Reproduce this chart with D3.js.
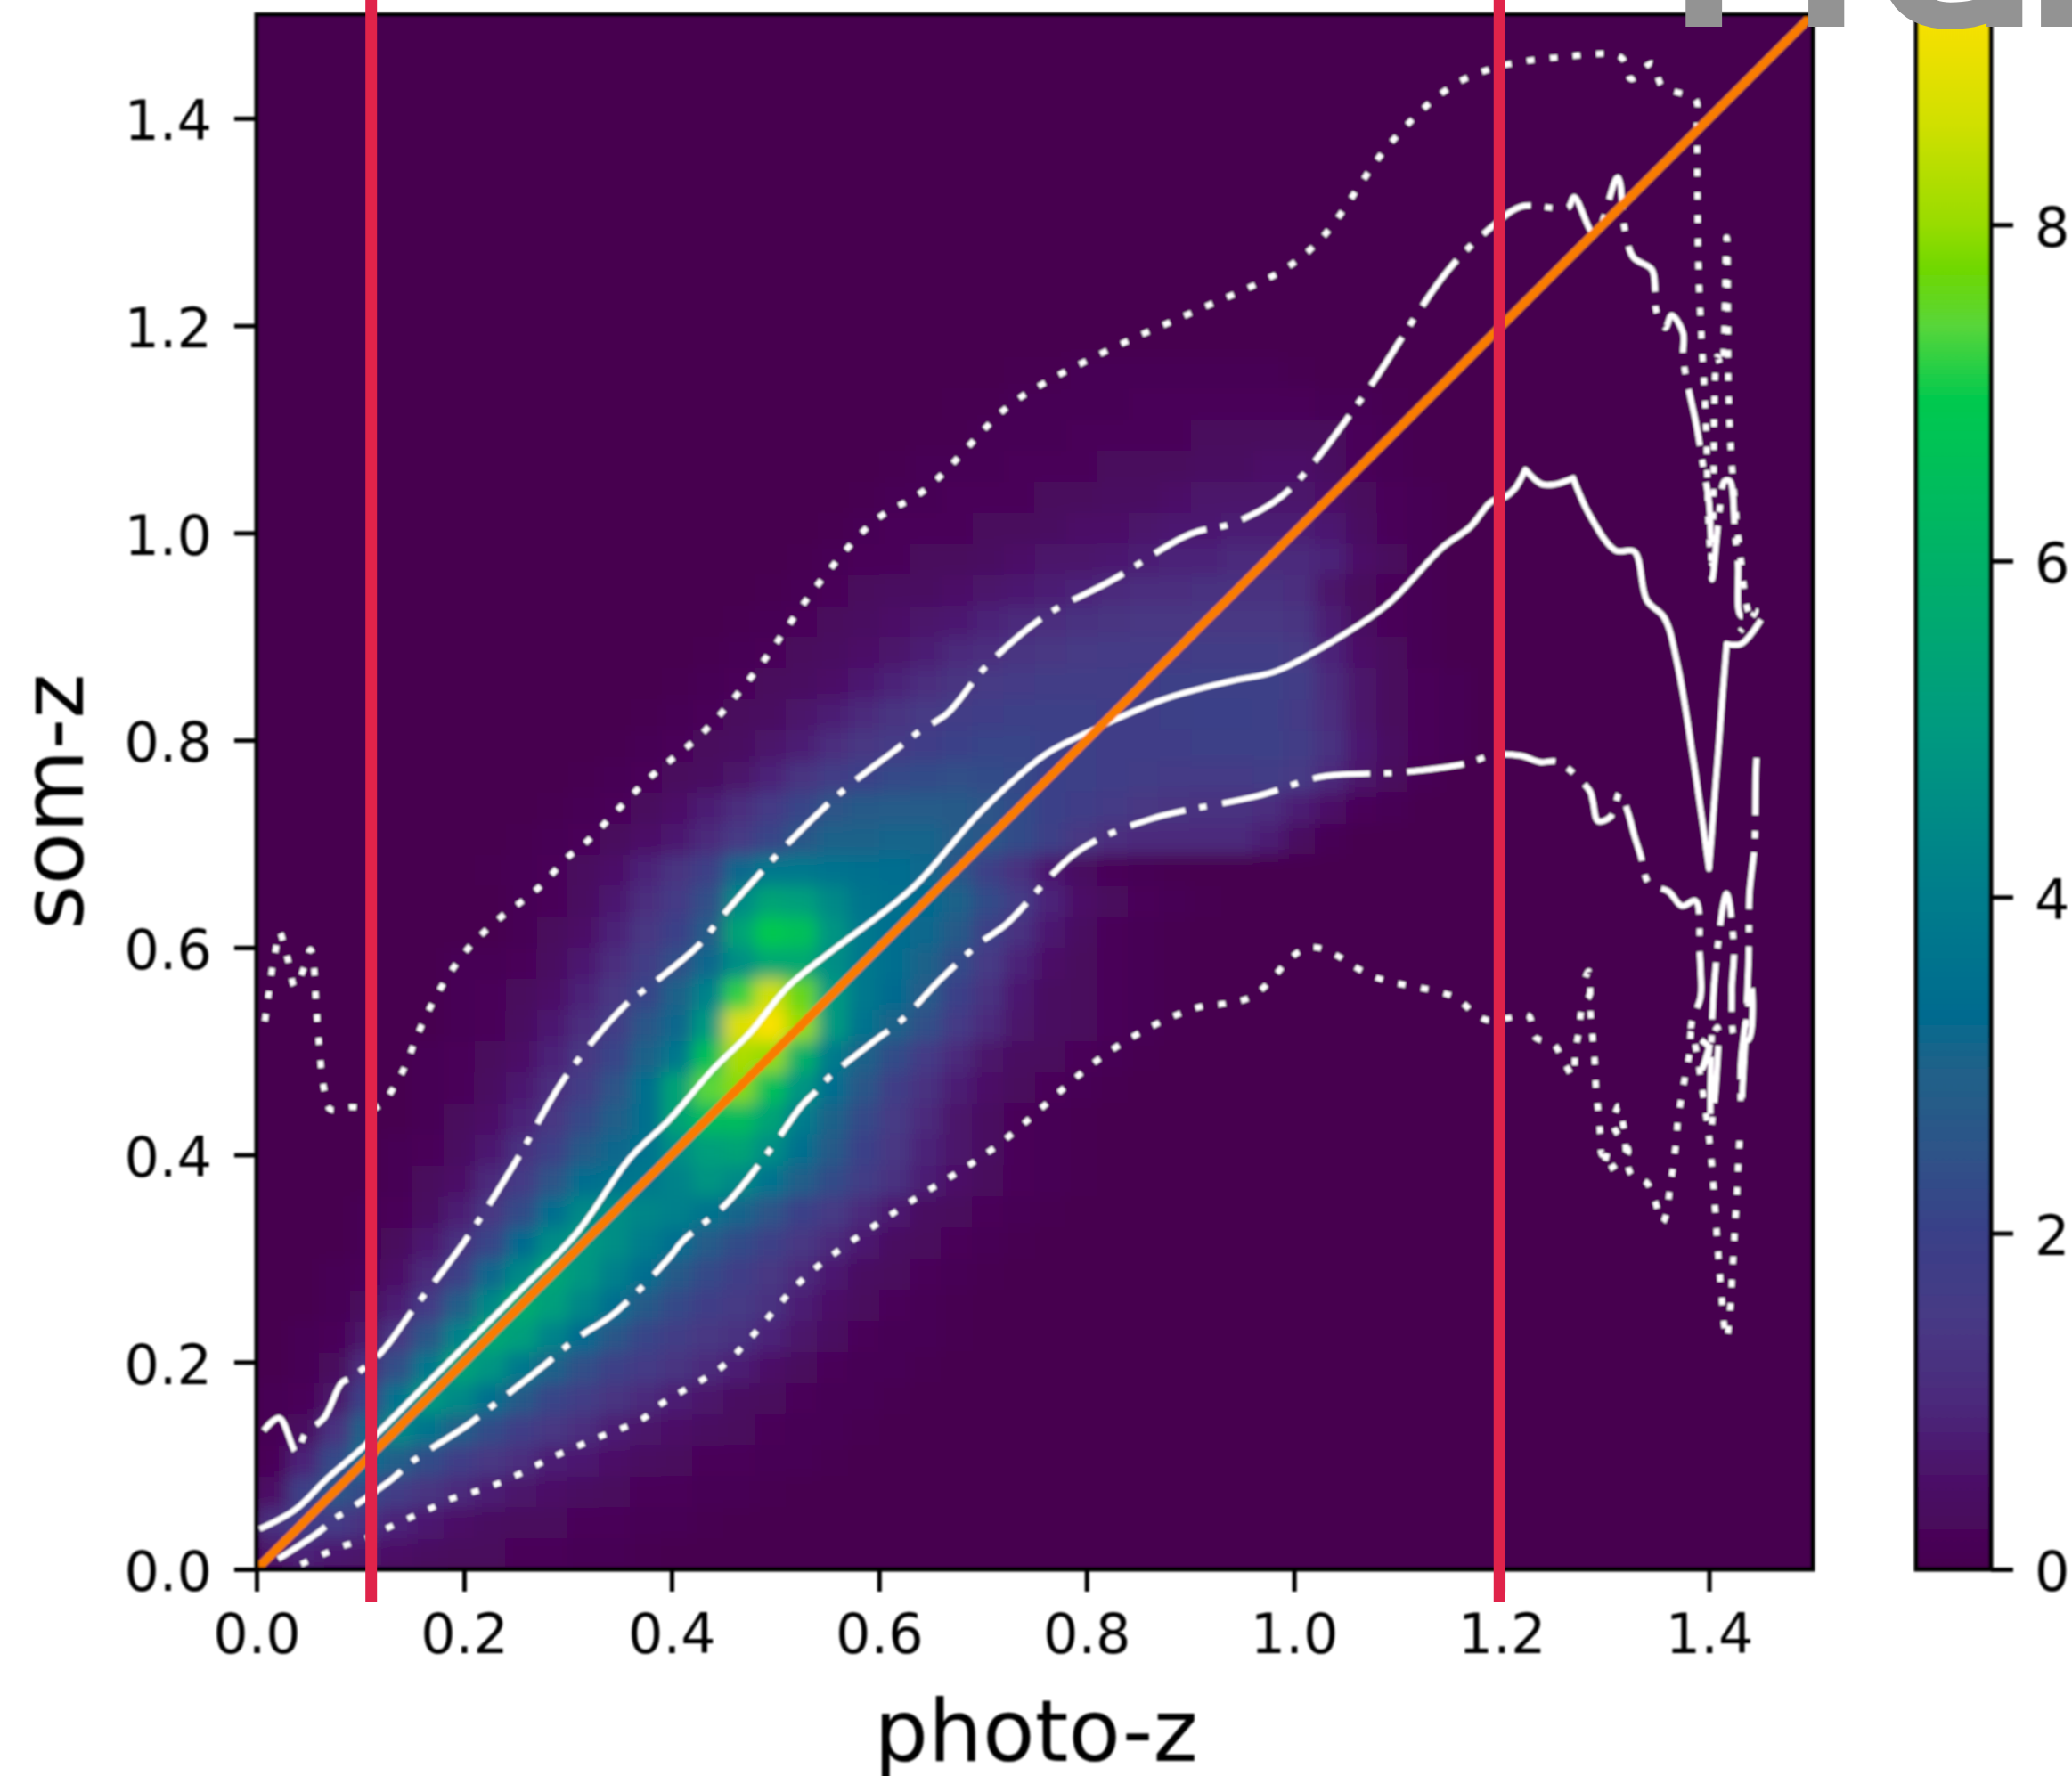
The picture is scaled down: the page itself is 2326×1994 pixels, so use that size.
<!DOCTYPE html>
<html>
<head>
<meta charset="utf-8">
<script src="https://cdn.jsdelivr.net/npm/d3@7"></script>
<style>
  html, body { margin: 0; padding: 0; background: #fff; overflow: hidden; }
  text { font-family: "DejaVu Sans", sans-serif; fill: #000; }
</style>
</head>
<body>
<div id="chart"></div>
<script>
// tick labels
const xTicks = [0, 0.2, 0.4, 0.6, 0.8, 1.0, 1.2, 1.4]
const yTicks = [0, 0.2, 0.4, 0.6, 0.8, 1.0, 1.2, 1.4]
const barTicks = [0, 2, 4, 6, 8]

// red marker lines and the one-to-one line
const redLines = [0.1105, 1.198]
const oneToOne = [0, 1.5]

// colour map
const colourLevels = [0, 0.5, 1, 1.5, 2, 2.5, 3, 3.3, 4, 5, 6, 6.95, 7.4, 7.74, 8, 8.6, 9.25]
const colourValues = ["#46004f", "#4b0e66", "#4c2a7c", "#473a85", "#3a4088", "#2e5488", "#1f6289", "#006b8f", "#007d8c", "#009a80", "#00b168", "#00c94f", "#58d63a", "#70d800", "#98dc00", "#d0e000", "#fae100"]

// density grid: bin width, first filled column per row, values per row (bottom row first)
const binWidth = 0.03
const heatStart = [0,0,0,0,0,0,1,1,2,2,3,3,4,4,5,5,5,6,6,6,8,8,7,8,9,10,11,12,13,14,15,16,17,18,19,20,21,22,24]
const heatRows = [
  [.6,.9,.7,.6,.5,.4,.3,.3,.2,.2,.1,.1,.05],
  [1.2,1.8,1.6,1.2,.9,.7,.5,.4,.3,.3,.2,.2,.1,.1,.05],
  [.5,1.9,2.6,2.2,1.7,1.3,1.0,.8,.6,.5,.4,.3,.2,.2,.1,.1,.05],
  [.2,.9,2.2,3.4,2.9,2.3,1.8,1.4,1.1,.8,.7,.5,.4,.3,.2,.2,.1,.1,.05],
  [.1,.4,1.2,3.0,4.4,3.7,2.9,2.3,1.8,1.4,1.1,.8,.6,.5,.4,.3,.2,.1,.1,.05],
  [.1,.2,.6,2.0,3.6,5.0,4.4,3.5,2.7,2.1,1.7,1.3,1.0,.8,.6,.4,.3,.2,.1,.1,.05],
  [.1,.3,1.1,2.4,3.8,5.4,4.8,3.8,3.0,2.4,1.9,1.6,1.3,1.0,.8,.5,.3,.2,.1,.1,.05],
  [.1,.2,.6,1.4,2.6,4.2,5.6,5.2,4.2,3.3,2.6,2.1,1.7,1.4,1.2,.9,.6,.4,.2,.1,.1,.05],
  [.1,.3,.8,1.6,2.9,4.4,5.8,5.2,4.3,3.4,2.7,2.2,1.8,1.5,1.2,.8,.5,.3,.2,.1,.05],
  [.1,.2,.5,1.0,1.9,3.2,4.4,5.5,4.9,4.1,3.4,2.7,2.2,1.8,1.4,1.0,.7,.4,.3,.2,.1,.05],
  [.1,.3,.7,1.2,2.1,3.3,4.5,5.0,4.6,4.0,3.4,2.8,2.3,1.9,1.4,1.0,.7,.4,.3,.2,.1,.05],
  [.1,.2,.4,.8,1.4,2.3,3.4,4.4,4.6,4.3,4.1,3.7,3.1,2.5,2.0,1.5,1.0,.7,.4,.3,.2,.1,.05],
  [.1,.3,.5,1.0,1.6,2.5,3.4,3.6,3.8,4.2,4.8,4.4,3.6,2.9,2.3,1.7,1.2,.8,.5,.3,.2,.1,.05],
  [.1,.2,.4,.7,1.2,1.9,2.7,3.2,3.6,4.6,5.2,5.4,4.6,3.5,2.7,2.0,1.4,.9,.6,.4,.2,.1,.05],
  [.1,.3,.5,.9,1.4,2.2,2.9,3.5,5.4,6.4,6.4,5.4,4.0,3.0,2.2,1.5,1.0,.6,.4,.2,.1,.05],
  [.1,.2,.4,.7,1.1,1.7,2.5,3.5,5.4,7.4,7.9,6.6,4.8,3.4,2.6,1.8,1.2,.8,.5,.3,.2,.1,.05],
  [.1,.2,.3,.5,.9,1.4,2.1,3.0,3.8,6.6,8.2,8.0,6.0,3.9,3.0,2.3,1.6,1.0,.6,.4,.3,.2,.1,.05],
  [.1,.2,.4,.7,1.1,1.7,2.6,3.2,5.0,8.8,9.25,8.0,5.0,3.6,3.0,2.4,1.6,1.0,.6,.4,.3,.2,.1,.05],
  [.1,.2,.3,.5,.9,1.4,2.1,3.0,4.2,7.2,8.6,7.6,5.0,3.8,3.3,2.8,2.0,1.2,.7,.4,.3,.2,.1,.05],
  [.1,.1,.2,.4,.7,1.1,1.7,2.4,3.2,4.6,5.6,5.6,4.6,3.8,3.4,3.0,2.3,1.5,.9,.5,.3,.2,.1,.05],
  [.1,.3,.5,.9,1.4,2.0,2.8,5.4,6.9,6.6,4.8,3.8,3.4,3.2,2.7,1.9,1.2,.7,.4,.2,.1,.05],
  [.1,.2,.4,.7,1.1,1.6,2.4,4.4,5.4,5.2,4.4,3.7,3.5,3.3,3.0,2.3,1.6,.9,.5,.3,.2,.1,.05],
  [.05,.1,.2,.35,.55,.9,1.3,1.9,3.2,3.8,3.8,3.6,3.5,3.4,3.2,2.6,1.9,1.2,.7,.4,.2,.1,.05],
  [.05,.1,.2,.3,.5,.7,1.0,1.5,2.1,2.6,3.0,3.0,3.1,3.1,2.8,2.6,2.3,1.9,1.4,1.1,1.0,1.0,1.0,1.0,.8,.4,.1],
  [.05,.1,.2,.3,.5,.8,1.1,1.6,2.1,2.5,2.7,2.8,2.8,2.7,2.5,2.3,2.0,1.8,1.6,1.4,1.3,1.2,1.2,1.1,.8,.5,.2,.1],
  [.05,.1,.2,.3,.4,.6,.9,1.3,1.7,2.0,2.2,2.3,2.4,2.3,2.2,2.0,1.9,1.8,1.7,1.6,1.6,1.6,1.7,1.5,1.0,.6,.3,.1],
  [.05,.1,.2,.3,.4,.6,.8,1.1,1.4,1.6,1.8,2.0,2.1,2.1,2.0,1.9,1.8,1.8,1.8,1.9,1.9,1.9,1.7,1.2,.7,.4,.2,.1],
  [.05,.1,.2,.3,.4,.6,.8,1.0,1.3,1.5,1.7,1.8,1.9,1.9,1.9,1.8,1.8,1.9,2.0,2.0,1.9,1.6,1.1,.6,.3,.2,.1],
  [.05,.1,.2,.3,.4,.5,.7,.9,1.1,1.3,1.5,1.6,1.7,1.7,1.7,1.8,1.9,1.9,1.9,1.9,1.7,1.0,.6,.3,.2,.1],
  [.05,.1,.2,.3,.4,.5,.6,.8,1.0,1.1,1.3,1.4,1.5,1.6,1.6,1.6,1.7,1.7,1.7,1.5,.9,.5,.3,.1],
  [.05,.1,.2,.3,.4,.5,.6,.7,.9,1.0,1.1,1.2,1.3,1.4,1.4,1.4,1.4,1.4,1.3,.8,.4,.2,.1],
  [.05,.1,.2,.3,.4,.4,.5,.6,.7,.8,.9,1.0,1.1,1.1,1.2,1.2,1.2,1.1,.6,.3,.2,.1],
  [.05,.1,.2,.2,.3,.3,.4,.5,.6,.6,.7,.8,.9,.9,1.0,1.0,1.0,.9,.5,.3,.1],
  [.05,.1,.2,.2,.2,.3,.3,.4,.5,.5,.6,.7,.7,.8,.8,.8,.7,.4,.2,.1],
  [.05,.1,.1,.2,.2,.2,.3,.3,.4,.4,.5,.6,.6,.6,.6,.5,.3,.2,.1],
  [.05,.1,.1,.1,.2,.2,.2,.3,.3,.3,.4,.4,.5,.5,.4,.2,.1,.05],
  [.05,.05,.1,.1,.1,.2,.2,.2,.2,.3,.3,.3,.3,.3,.2,.1,.05],
  [.05,.05,.1,.1,.1,.1,.2,.2,.2,.2,.2,.2,.1,.1,.05],
  [.05,.05,.1,.1,.1,.1,.1,.1,.1,.05]
]

// median line
const medianX = [.003,.037,.068,.105,.16,.25,.309,.36,.398,.44,.475,.512,.555,.632,.698,.76,.80,.876,.939,.981,1.028,1.09,1.143,1.17,1.19,1.204,1.213,1.223,1.223,1.239,1.252,1.269,1.269,1.285,1.31,1.328,1.34,1.357,1.37,1.385,1.40,1.40,1.417,1.417,1.431,1.45]
const medianY = [.039,.0575,.0875,.12,.175,.265,.325,.397,.434,.4825,.517,.562,.597,.657,.731,.786,.807,.84,.857,.866,.89,.931,.986,1.006,1.03,1.035,1.043,1.061,1.061,1.047,1.047,1.053,1.053,1.017,.983,.982,.935,.918,.871,.78,.676,.676,.893,.893,.893,.916]

// upper and lower dash-dot lines
const upperX = [.007,.022,.0385,.047,.065,.082,.091,.12,.149,.203,.252,.297,.355,.383,.425,.447,.483,.507,.545,.572,.615,.641,.666,.703,.76,.824,.90,.94,.981,1.009,1.069,1.149,1.194,1.219,1.264,1.27,1.29,1.312,1.319,1.327,1.345,1.348,1.349,1.358,1.364,1.375,1.375,1.377,1.388,1.395,1.40,1.402,1.403,1.41,1.415,1.42,1.425,1.428,1.431,1.445,1.43]
const upperY = [.134,.146,.113,.131,.146,.18,.185,.209,.248,.32,.397,.474,.544,.566,.601,.628,.669,.695,.733,.757,.79,.81,.826,.871,.92,.954,.999,1.009,1.03,1.056,1.135,1.254,1.298,1.315,1.314,1.324,1.288,1.343,1.292,1.266,1.254,1.234,1.215,1.198,1.21,1.193,1.174,1.155,1.103,1.06,1.03,.99,.955,1.02,1.05,1.05,1.0,.97,.92,.925,.905]
const lowerX = [.021,.06,.074,.091,.131,.146,.163,.203,.22,.275,.306,.346,.398,.41,.455,.495,.526,.539,.552,.593,.623,.658,.698,.722,.792,.862,.964,1.028,1.104,1.168,1.192,1.219,1.237,1.254,1.285,1.288,1.293,1.305,1.314,1.322,1.328,1.334,1.342,1.361,1.374,1.387,1.391,1.392,1.392,1.383,1.40,1.394,1.408,1.407,1.402,1.405,1.417,1.424,1.422,1.426,1.438,1.441,1.431,1.431,1.438,1.439,1.441,1.444,1.445,1.446]
const lowerY = [.01,.036,.048,.059,.0875,.101,.113,.139,.152,.195,.221,.248,.301,.316,.355,.405,.448,.461,.475,.508,.531,.568,.605,.622,.693,.724,.746,.765,.769,.778,.786,.785,.779,.779,.751,.741,.722,.726,.749,.73,.708,.689,.662,.654,.64,.645,.595,.576,.553,.52,.503,.484,.523,.472,.427,.565,.652,.599,.557,.511,.511,.562,.492,.446,.584,.652,.672,.70,.764,.788]

// upper and lower dotted lines
const outerHighX = [.008,.011,.014,.018,.022,.03,.037,.046,.052,.056,.057,.06,.065,.071,.091,.116,.14,.157,.177,.203,.234,.269,.301,.315,.378,.43,.48,.544,.595,.646,.722,.76,.837,.90,.99,1.028,1.092,1.149,1.194,1.257,1.315,1.325,1.345,1.355,1.387,1.388,1.39,1.397,1.40,1.403,1.408,1.412,1.417,1.42,1.43,1.44,1.445]
const outerHighY = [.529,.55,.573,.595,.615,.589,.562,.581,.598,.574,.553,.509,.464,.444,.446,.446,.479,.52,.56,.598,.628,.655,.688,.699,.763,.807,.865,.954,1.011,1.043,1.12,1.145,1.184,1.212,1.254,1.286,1.375,1.429,1.449,1.459,1.459,1.438,1.453,1.431,1.418,1.398,1.25,1.106,1.00,.97,1.17,1.16,1.285,1.10,.98,.92,.92]
const outerLowX = [.043,.063,.082,.103,.124,.146,.166,.185,.207,.228,.249,.269,.289,.31,.331,.352,.372,.389,.448,.474,.531,.62,.71,.824,.90,.958,1.015,1.079,1.155,1.173,1.186,1.207,1.226,1.233,1.25,1.26,1.269,1.271,1.275,1.278,1.285,1.28,1.284,1.286,1.288,1.29,1.291,1.293,1.295,1.297,1.303,1.299,1.322,1.308,1.313,1.318,1.325,1.34,1.348,1.355,1.359,1.362,1.365,1.368,1.37,1.373,1.377,1.381,1.383,1.40,1.405,1.41,1.417,1.425,1.43]
const outerLowY = [.005,.014,.022,.029,.039,.049,.058,.067,.074,.081,.09,.10,.11,.119,.128,.136,.145,.159,.195,.221,.284,.348,.406,.501,.54,.552,.60,.571,.552,.537,.53,.532,.534,.513,.507,.49,.476,.50,.521,.544,.555,.566,.577,.532,.511,.488,.465,.444,.421,.40,.408,.385,.403,.428,.447,.425,.381,.373,.355,.335,.343,.365,.386,.41,.433,.453,.476,.497,.52,.417,.36,.29,.223,.33,.427]

// full picture and the axes rectangle
const pageWidth = 2326
const pageHeight = 1994
const plot = {left: 288, right: 2035, top: 16.5, bottom: 1762}
const bar = {left: 2151, right: 2235, top: 16.5, bottom: 1762}

const xScale = d3.scaleLinear().domain([0, 1.5]).range([plot.left, plot.right])
const yScale = d3.scaleLinear().domain([0, 1.5]).range([plot.bottom, plot.top])
const barScale = d3.scaleLinear().domain([0, 9.25]).range([bar.bottom, bar.top])
const colour = d3.scaleLinear().domain(colourLevels).range(colourValues)

const svg = d3.select("#chart")
  .append("svg")
  .attr("width", pageWidth)
  .attr("height", pageHeight)

const defs = svg.append("defs")

defs.append("clipPath")
    .attr("id", "plotClip")
  .append("rect")
    .attr("x", plot.left)
    .attr("y", plot.top)
    .attr("width", plot.right - plot.left)
    .attr("height", plot.bottom - plot.top)

defs.append("filter")
    .attr("id", "heatBlur")
    .attr("filterUnits", "userSpaceOnUse")
    .attr("x", 0).attr("y", 0).attr("width", pageWidth).attr("height", pageHeight)
  .append("feGaussianBlur")
    .attr("stdDeviation", 9)

defs.append("filter")
    .attr("id", "softBlur")
    .attr("filterUnits", "userSpaceOnUse")
    .attr("x", 0).attr("y", 0).attr("width", pageWidth).attr("height", pageHeight)
  .append("feGaussianBlur")
    .attr("stdDeviation", 1.1)

const gradient = defs.append("linearGradient")
    .attr("id", "barGradient")
    .attr("x1", 0).attr("x2", 0).attr("y1", 1).attr("y2", 0)

gradient.selectAll("stop")
    .data(colourLevels)
    .enter()
    .append("stop")
    .attr("offset", d => d / 9.25)
    .attr("stop-color", d => colour(d))

// alles dat in het originele plaatje wazig is
const soft = svg.append("g").attr("filter", "url(#softBlur)")

const plotArea = soft.append("g").attr("clip-path", "url(#plotClip)")

// density cells
const cells = []
heatRows.forEach(function (row, j) {
  row.forEach(function (value, i) {
    cells.push({col: heatStart[j] + i, row: j, value: value})
  })
})

const heatGroup = plotArea.append("g").attr("filter", "url(#heatBlur)")

// achtergrond ook in de blur groep, anders krijgt de rand transparantie
heatGroup.append("rect")
    .attr("x", 0)
    .attr("y", 0)
    .attr("width", pageWidth)
    .attr("height", pageHeight)
    .attr("fill", colour(0))

heatGroup.selectAll(".cell")
    .data(cells)
    .enter()
    .append("rect")
    .attr("class", "cell")
    .attr("x", d => xScale(d.col * binWidth))
    .attr("y", d => yScale((d.row + 1) * binWidth))
    .attr("width", xScale(binWidth) - xScale(0) + 0.5)
    .attr("height", yScale(0) - yScale(binWidth) + 0.5)
    .attr("fill", d => colour(d.value))

const line = d3.line()
    .x(d => xScale(d[0]))
    .y(d => yScale(d[1]))
    .curve(d3.curveCatmullRom.alpha(0.5))

function drawLine(xs, ys, dash) {
  plotArea.append("path")
      .datum(xs.map((x, i) => [x, ys[i]]))
      .attr("d", line)
      .attr("fill", "none")
      .attr("stroke", "#fff")
      .attr("stroke-width", 6.5)
      .attr("stroke-linejoin", "round")
      .attr("stroke-dasharray", dash)
}

drawLine(medianX, medianY, null)
drawLine(upperX, upperY, "64,16,8,18")
drawLine(lowerX, lowerY, "64,16,8,18")
drawLine(outerHighX, outerHighY, "8,18")
drawLine(outerLowX, outerLowY, "8,18")

plotArea.append("line")
    .attr("x1", xScale(oneToOne[0]))
    .attr("y1", yScale(oneToOne[0]))
    .attr("x2", xScale(oneToOne[1]))
    .attr("y2", yScale(oneToOne[1]))
    .attr("stroke", "#f97c00")
    .attr("stroke-width", 10)

// assen
const xAxis = soft.append("g")
    .attr("transform", "translate(0," + plot.bottom + ")")
    .call(d3.axisBottom(xScale).tickValues(xTicks).tickFormat(d3.format(".1f")).tickSize(25).tickPadding(25))

const yAxis = soft.append("g")
    .attr("transform", "translate(" + plot.left + ",0)")
    .call(d3.axisLeft(yScale).tickValues(yTicks).tickFormat(d3.format(".1f")).tickSize(25).tickPadding(25))

soft.append("rect")
    .attr("x", plot.left)
    .attr("y", plot.top)
    .attr("width", plot.right - plot.left)
    .attr("height", plot.bottom - plot.top)
    .attr("fill", "none")
    .attr("stroke", "#000")
    .attr("stroke-width", 5)

soft.append("text")
    .attr("x", 1163)
    .attr("y", 1977)
    .attr("text-anchor", "middle")
    .style("font-size", "96px")
    .text("photo-z")

soft.append("text")
    .attr("transform", "translate(93,900) rotate(-90)")
    .attr("text-anchor", "middle")
    .style("font-size", "96px")
    .text("som-z")

// kleurenbalk
soft.append("rect")
    .attr("x", bar.left)
    .attr("y", bar.top)
    .attr("width", bar.right - bar.left)
    .attr("height", bar.bottom - bar.top)
    .attr("fill", "url(#barGradient)")
    .attr("stroke", "#000")
    .attr("stroke-width", 5)

const barAxis = soft.append("g")
    .attr("transform", "translate(" + bar.right + ",0)")
    .call(d3.axisRight(barScale).tickValues(barTicks).tickFormat(d3.format("d")).tickSize(25).tickPadding(24))

;[xAxis, yAxis, barAxis].forEach(function (axis) {
  axis.select(".domain").remove()
  axis.selectAll(".tick line").attr("stroke", "#000").attr("stroke-width", 5)
  axis.selectAll("text").style("font-size", "62px").style("font-family", '"DejaVu Sans", sans-serif').attr("fill", "#000")
})
yAxis.selectAll("text").attr("dy", "0.385em")
barAxis.selectAll("text").attr("dy", "0.385em")

// rode lijnen en grijze tekst komen er scherp overheen
svg.selectAll(".redLine")
    .data(redLines)
    .enter()
    .append("line")
    .attr("class", "redLine")
    .attr("x1", d => xScale(d))
    .attr("x2", d => xScale(d))
    .attr("y1", 0)
    .attr("y2", 1799)
    .attr("stroke", "#e0234a")
    .attr("stroke-width", 13)

svg.append("text")
    .attr("x", "1868 2009 2100 2209 2270")
    .attr("y", 30)
    .style("font-family", '"Open Sans", sans-serif')
    .style("font-weight", "bold")
    .style("font-size", "270px")
    .style("fill", "#939393")
    .text("Preliminary")
</script>
</body>
</html>
